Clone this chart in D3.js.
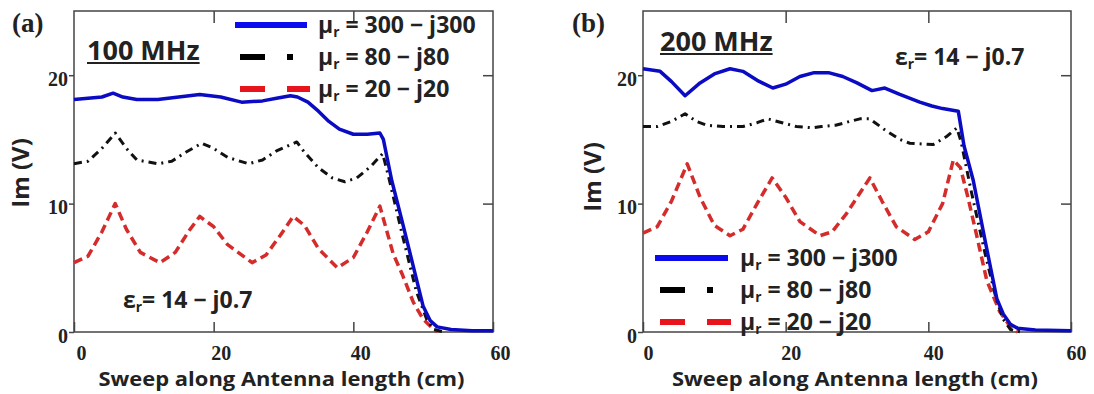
<!DOCTYPE html>
<html>
<head>
<meta charset="utf-8">
<script src="https://cdn.jsdelivr.net/npm/d3@7"></script>
<style>
  body { margin: 0; background: #fff; }
  text { font-family: "Open Sans", "Noto Sans", sans-serif; font-weight: bold; fill: #222; }
</style>
</head>
<body>
<div id="chart"></div>
<script>
// tick values shared by both panels
var xTicks = [0, 20, 40, 60];
var yTicks = [0, 10, 20];

// legend labels (mu_r values)
var muLabels = ["300 \u2212 j300", "80 \u2212 j80", "20 \u2212 j20"];

// (a) 100 MHz, [position cm, Im(V)]
var blue100 = [[0,18.1],[2,18.2],[4,18.3],[5.6,18.6],[7,18.3],[9,18.1],[12,18.1],[15,18.3],[18,18.5],[21,18.3],[24,17.9],[27,18.0],[29,18.2],[31,18.4],[32,18.3],
  [33.5,17.9],[35,17.2],[36.5,16.4],[38,15.8],[40,15.4],[42,15.4],[43.8,15.5],[44.3,15.0],[45.5,11.8],[47,8.6],[49,4.2],[50,2.0],[51,0.9],[52,0.4],[54,0.2],[57,0.1],[60,0.1]];
var black100 = [[0,13.1],[2,13.3],[4,14.3],[5.9,15.5],[7.5,14.3],[9,13.4],[12,13.1],[14,13.3],[16,14.0],[18.3,14.7],[20,14.3],[22,13.6],[25,13.1],[27,13.4],[29,14.1],[31.9,14.8],
  [33,14.0],[35,12.8],[37,12.0],[38.8,11.7],[40.5,12.0],[42.5,12.9],[44.2,13.9],[45,12.2],[47,7.6],[49,3.2],[50.5,1.0],[51.5,0.2],[53,0]];
var red100 = [[0,5.4],[2,5.9],[4,7.8],[5.9,10.0],[7.5,8.0],[9.5,6.2],[12.3,5.4],[14.5,6.2],[16.5,7.9],[18,9.0],[20,8.2],[22,6.8],[25.5,5.4],[27.5,6.0],[29.5,7.5],[31.4,9.0],
  [33,8.3],[35,6.5],[37.7,5.0],[40,5.8],[42,7.8],[43.8,9.8],[45.7,6.1],[47,4.5],[48.6,2.3],[50,1.0],[51.3,0.3],[52,0]];

// (b) 200 MHz
var blue200 = [[0,20.5],[2.4,20.3],[4,19.5],[5.9,18.4],[8,19.4],[10,20.1],[12.2,20.5],[14,20.3],[16,19.6],[18.2,19.0],[20,19.3],[22,19.9],[24,20.2],[26,20.2],[28,19.9],[30,19.4],
  [32.1,18.8],[33.9,19.0],[36,18.5],[38.8,17.9],[40.5,17.6],[42,17.4],[44.2,17.2],[45,14.5],[46.3,11.8],[48,7.0],[49.6,2.6],[50.5,1.4],[51.5,0.6],[52.5,0.3],[55,0.15],[60,0.1]];
var black200 = [[0,16.0],[2,16.0],[4,16.4],[5.9,17.0],[7.5,16.4],[9,16.1],[11.2,16.0],[14,16.0],[16,16.3],[17.5,16.6],[19.5,16.3],[21.5,16.0],[23.8,15.9],[25,16.0],[27,16.1],[29,16.4],
  [30.4,16.6],[31.8,16.6],[34,15.7],[36,15.0],[37.4,14.7],[40.7,14.6],[42.5,15.2],[44,15.9],[44.6,14.8],[46,11.0],[48,6.0],[49.5,2.6],[50.5,1.0],[51.5,0.2],[53,0]];
var red200 = [[0,7.7],[2,8.2],[4,10.2],[6.2,13.1],[8,10.5],[10,8.3],[12.2,7.5],[14,8.0],[16,10.0],[18.1,12.0],[20,10.5],[22,8.6],[24.8,7.5],[26.5,7.8],[28.5,9.2],[31.8,12.0],
  [33.5,10.2],[35.5,8.2],[38.1,7.2],[40,7.8],[42,10.0],[43.5,13.4],[44.5,12.8],[45.5,10.6],[46.5,8.2],[48.2,4.0],[50,1.6],[51.5,0.4],[52.5,0]];

var W = 1094, H = 394;
var svg = d3.select("#chart").append("svg").attr("width", W).attr("height", H);
svg.append("rect").attr("width", W).attr("height", H).attr("fill", "#fff");

var styles = {
	blue: {stroke: "#0b0bc4", width: 3.5, dash: null},
	black: {stroke: "#111", width: 3, dash: "8,5,2,5"},
	red: {stroke: "#d42b2b", width: 3.5, dash: "9,5"}
};

var serif = "'Liberation Serif', 'DejaVu Serif', serif";

function muText(g, x, y, label, size) {
	var t = g.append("text").attr("x", x).attr("y", y).attr("dy", "0.35em").style("font-size", size + "px");
	t.append("tspan").text("\u03bc");
	t.append("tspan").attr("baseline-shift", "-30%").style("font-size", (size * 0.6) + "px").text("r");
	t.append("tspan").text(" = " + label);
	return t;
}

function epsText(g, x, y, size) {
	var t = g.append("text").attr("x", x).attr("y", y).attr("dy", "0.35em").style("font-size", size + "px");
	t.append("tspan").text("\u03b5");
	t.append("tspan").attr("baseline-shift", "-30%").style("font-size", (size * 0.6) + "px").text("r");
	t.append("tspan").text("= 14 \u2212 j0.7");
}

function drawPanel(p) {
	var g = svg.append("g");
	var x = d3.scaleLinear().domain([0, 60]).range([p.x0, p.x1]);
	var y = d3.scaleLinear().domain([0, 25]).range([p.y1, p.y0]);

	// axes
	var bottom = g.append("g").attr("transform", "translate(0," + p.y1 + ")")
		.call(d3.axisBottom(x).tickValues(xTicks).tickSizeInner(-10).tickSizeOuter(0).tickPadding(0));
	bottom.selectAll("text").attr("dx", p.xdx).attr("y", 28).attr("dy", 0);
	g.append("g").attr("transform", "translate(0," + p.y0 + ")")
		.call(d3.axisTop(x).tickValues([20, 40]).tickSizeInner(-12).tickSizeOuter(0).tickFormat(""));
	var left = g.append("g").attr("transform", "translate(" + p.x0 + ",0)")
		.call(d3.axisLeft(y).tickValues(yTicks).tickSizeInner(5).tickSizeOuter(0).tickPadding(1));
	left.selectAll("text").attr("dy", "0.5em");
	g.append("g").attr("transform", "translate(" + p.x1 + ",0)")
		.call(d3.axisRight(y).tickValues([10, 20]).tickSizeInner(-10).tickSizeOuter(0).tickFormat(""));
	g.selectAll(".domain").remove();
	g.selectAll(".tick line").attr("stroke", "#444").attr("stroke-width", 1.5);
	g.selectAll(".tick text").attr("fill", "#222")
		.style("font-family", serif).style("font-size", "20px").style("font-weight", "bold");

	g.append("rect").attr("x", p.x0).attr("y", p.y0)
		.attr("width", p.x1 - p.x0).attr("height", p.y1 - p.y0)
		.attr("fill", "none").attr("stroke", "#444").attr("stroke-width", 1.5);

	// curves
	var line = d3.line().x(function (d) { return x(d[0]); }).y(function (d) { return y(d[1]); });
	p.series.forEach(function (s) {
		var st = styles[s.style];
		g.append("path").datum(s.data)
			.attr("d", line)
			.attr("fill", "none")
			.attr("stroke", st.stroke)
			.attr("stroke-width", st.width)
			.attr("stroke-dasharray", st.dash)
			.attr("stroke-linejoin", "round");
	});

	// titles
	g.append("text").attr("x", p.label[0]).attr("y", p.label[1])
		.style("font-family", serif).style("font-size", "27px").text(p.labelText);
	var fr = g.append("text").attr("x", p.freq[0]).attr("y", p.freq[1]).style("font-size", "27px").text(p.freqText);
	var fw = fr.node().getComputedTextLength();
	g.append("line").attr("x1", p.freq[0]).attr("x2", p.freq[0] + fw)
		.attr("y1", p.freq[1] + 3).attr("y2", p.freq[1] + 3).attr("stroke", "#222").attr("stroke-width", 2);
	g.append("text").attr("x", (p.x0 + p.x1) / 2 - 2).attr("y", 386)
		.attr("text-anchor", "middle").style("font-size", "20px")
		.attr("textLength", 366).attr("lengthAdjust", "spacingAndGlyphs")
		.text("Sweep along Antenna length (cm)");
	g.append("text").attr("transform", "translate(" + p.ytitle[0] + "," + p.ytitle[1] + ") rotate(-90)")
		.attr("text-anchor", "middle").attr("dy", "0.35em").style("font-size", "24px").text("Im (V)");
	epsText(g, p.eps[0], p.eps[1], 23);

	// legend
	var lg = p.legend;
	var rows = [lg.y, lg.y + lg.dy, lg.y + 2 * lg.dy];
	g.append("line").attr("x1", lg.x).attr("x2", lg.x + lg.len).attr("y1", rows[0]).attr("y2", rows[0])
		.attr("stroke", "#0b0bee").attr("stroke-width", 6);
	g.append("line").attr("x1", lg.x + 5).attr("x2", lg.x + 30).attr("y1", rows[1]).attr("y2", rows[1])
		.attr("stroke", "#000").attr("stroke-width", 6);
	g.append("rect").attr("x", lg.x + 52).attr("y", rows[1] - 3).attr("width", 6).attr("height", 6).attr("fill", "#000");
	g.append("line").attr("x1", lg.x + 5).attr("x2", lg.x + 30).attr("y1", rows[2]).attr("y2", rows[2])
		.attr("stroke", "#e8141c").attr("stroke-width", 6);
	g.append("line").attr("x1", lg.x + 52).attr("x2", lg.x + lg.len + 3).attr("y1", rows[2]).attr("y2", rows[2])
		.attr("stroke", "#e8141c").attr("stroke-width", 6);
	muLabels.forEach(function (m, i) {
		muText(g, lg.tx, rows[i], m, 23);
	});
}

drawPanel({
	x0: 74, x1: 493, y0: 11, y1: 332, xdx: 7,
	label: [12, 32], labelText: "(a)",
	freq: [87, 60], freqText: "100 MHz",
	ytitle: [21, 173], eps: [123, 300],
	legend: {x: 235, len: 72, y: 25, dy: 32, tx: 318},
	series: [{data: red100, style: "red"}, {data: black100, style: "black"}, {data: blue100, style: "blue"}]
});
drawPanel({
	x0: 643, x1: 1071, y0: 11, y1: 332, xdx: 5,
	label: [572, 32], labelText: "(b)",
	freq: [660, 51], freqText: "200 MHz",
	ytitle: [593, 177], eps: [895, 57],
	legend: {x: 655, len: 73, y: 258, dy: 32, tx: 740},
	series: [{data: red200, style: "red"}, {data: black200, style: "black"}, {data: blue200, style: "blue"}]
});
</script>
</body>
</html>
